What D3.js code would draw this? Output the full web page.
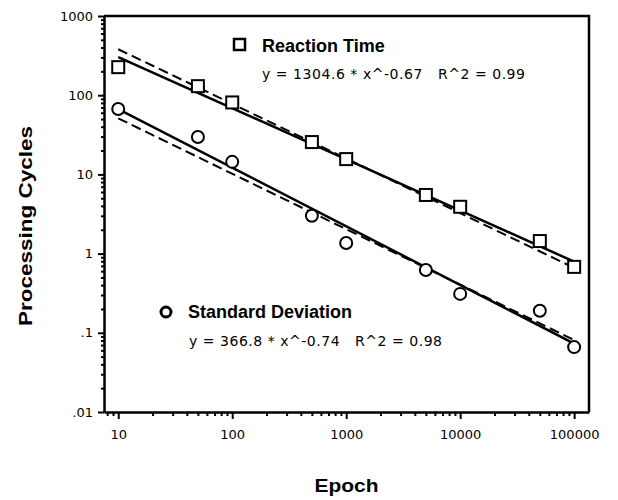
<!DOCTYPE html>
<html>
<head>
<meta charset="utf-8">
<script src="https://cdn.jsdelivr.net/npm/d3@7"></script>
<style>
  body { margin: 0; background: #fff; }
  .axis path, .axis line { stroke: #000; }
  .axis text { font-family: "DejaVu Sans", sans-serif; font-size: 13px; fill: #000; }
  .title { font-family: "Liberation Sans", Arial, sans-serif; font-weight: bold; font-size: 18px; }
  .eq { font-family: "DejaVu Sans", sans-serif; font-size: 14px; white-space: pre; }
</style>
</head>
<body>
<script>
var epochs = [10, 50, 100, 500, 1000, 5000, 10000, 50000, 100000];
var reactionTime = [226, 130, 81, 25.6, 15.6, 5.5, 3.9, 1.44, 0.68];
var stdDev = [67, 29.6, 14.4, 3.0, 1.36, 0.62, 0.31, 0.19, 0.066];

var xTicks = [10, 100, 1000, 10000, 100000];
var xTickLabels = ['10', '100', '1000', '10000', '100000'];
var yTicks = [1000, 100, 10, 1, 0.1, 0.01];
var yTickLabels = ['1000', '100', '10', '1', '.1', '.01'];

// power law lines as drawn: y = a * x^b
var rtFit = [1343, -0.646];
var rtDashed = [1864, -0.69];
var sdFit = [366.8, -0.74];
var sdDashed = [256, -0.70];
var fitRange = [10, 100000];

var width = 485;
var height = 396;
var margin = { left: 104, top: 16 };

var x = d3.scaleLog().domain([7.5, 135000]).range([0, width]);
var y = d3.scaleLog().domain([0.01, 1000]).range([height, 0]);

var svg = d3.select("body").append("svg").attr("width", 618).attr("height", 500);
var g = svg.append("g").attr("transform", "translate(" + margin.left + "," + margin.top + ")");

// minor ticks
var minorX = [];
for (var e = 0; e <= 5; e++) for (var k = 2; k <= 9; k++) {
    var v = k * Math.pow(10, e);
    if (v > 7.5 && v < 135000) minorX.push(v);
}
var minorY = [];
for (var e2 = -2; e2 < 3; e2++) for (var k2 = 2; k2 <= 9; k2++) minorY.push(k2 * Math.pow(10, e2));

g.append("g").attr("class", "axis").attr("transform", "translate(0," + height + ")")
    .call(d3.axisBottom(x).tickValues(minorX).tickSize(4).tickFormat("").tickSizeOuter(0))
    .call(function (s) { s.select(".domain").remove(); s.selectAll("line").attr("stroke-width", 2); });
g.append("g").attr("class", "axis").attr("transform", "translate(0," + height + ")")
    .call(d3.axisBottom(x).tickValues(xTicks).tickSize(7).tickSizeOuter(0)
        .tickFormat(function (d, i) { return xTickLabels[i]; }).tickPadding(11))
    .call(function (s) { s.select(".domain").attr("stroke-width", 2.5); s.selectAll("line").attr("stroke-width", 2); });

g.append("g").attr("class", "axis")
    .call(d3.axisLeft(y).tickValues(minorY).tickSize(3).tickFormat("").tickSizeOuter(0))
    .call(function (s) { s.select(".domain").remove(); s.selectAll("line").attr("stroke-width", 2); });
g.append("g").attr("class", "axis")
    .call(d3.axisLeft(y).tickValues(yTicks).tickSize(6).tickSizeOuter(0)
        .tickFormat(function (d, i) { return yTickLabels[i]; }).tickPadding(5))
    .call(function (s) { s.select(".domain").attr("stroke-width", 2.5); s.selectAll("line").attr("stroke-width", 2); });

// frame top and right
g.append("path").attr("d", "M0,0H" + width + "V" + height)
    .attr("fill", "none").attr("stroke", "#000").attr("stroke-width", 2.5);

var fitLine = d3.line()
    .x(function (d) { return x(d.x); })
    .y(function (d) { return y(d.y); });
function fitPoints(p) {
    return fitRange.map(function (v) { return { x: v, y: p[0] * Math.pow(v, p[1]) }; });
}
[[rtFit, null], [rtDashed, "10,5"], [sdFit, null], [sdDashed, "10,5"]].forEach(function (f) {
    g.append("path").attr("d", fitLine(fitPoints(f[0])))
        .attr("fill", "none").attr("stroke", "#000")
        .attr("stroke-width", f[1] ? 2 : 2.5)
        .attr("stroke-dasharray", f[1]);
});

var s = 12;
g.selectAll(".rt").data(epochs).enter().append("rect")
    .attr("x", function (d) { return x(d) - s / 2; })
    .attr("y", function (d, i) { return y(reactionTime[i]) - s / 2; })
    .attr("width", s).attr("height", s)
    .attr("fill", "#fff").attr("stroke", "#000").attr("stroke-width", 2);

g.selectAll(".sd").data(epochs).enter().append("circle")
    .attr("cx", function (d) { return x(d); })
    .attr("cy", function (d, i) { return y(stdDev[i]); })
    .attr("r", 6)
    .attr("fill", "#fff").attr("stroke", "#000").attr("stroke-width", 2);

// legends
svg.append("rect").attr("x", 234).attr("y", 39).attr("width", 11).attr("height", 11)
    .attr("fill", "#fff").attr("stroke", "#000").attr("stroke-width", 2.5);
svg.append("text").attr("class", "title").attr("x", 262).attr("y", 52).text("Reaction Time");
svg.append("text").attr("class", "eq").attr("x", 262).attr("y", 79)
    .attr("textLength", 263).attr("lengthAdjust", "spacing")
    .text("y = 1304.6 * x^-0.67   R^2 = 0.99");

svg.append("circle").attr("cx", 166).attr("cy", 312).attr("r", 5)
    .attr("fill", "#fff").attr("stroke", "#000").attr("stroke-width", 3);
svg.append("text").attr("class", "title").attr("x", 188).attr("y", 318).text("Standard Deviation");
svg.append("text").attr("class", "eq").attr("x", 189).attr("y", 346)
    .attr("textLength", 253).attr("lengthAdjust", "spacing")
    .text("y = 366.8 * x^-0.74   R^2 = 0.98");

// axis titles
svg.append("text").attr("class", "title").attr("text-anchor", "middle")
    .attr("x", margin.left + width / 2).attr("y", 492)
    .attr("textLength", 64).attr("lengthAdjust", "spacingAndGlyphs").text("Epoch");
svg.append("text").attr("class", "title").attr("text-anchor", "middle")
    .attr("transform", "translate(32,226) rotate(-90)")
    .attr("textLength", 200).attr("lengthAdjust", "spacingAndGlyphs")
    .text("Processing Cycles");
</script>
</body>
</html>
